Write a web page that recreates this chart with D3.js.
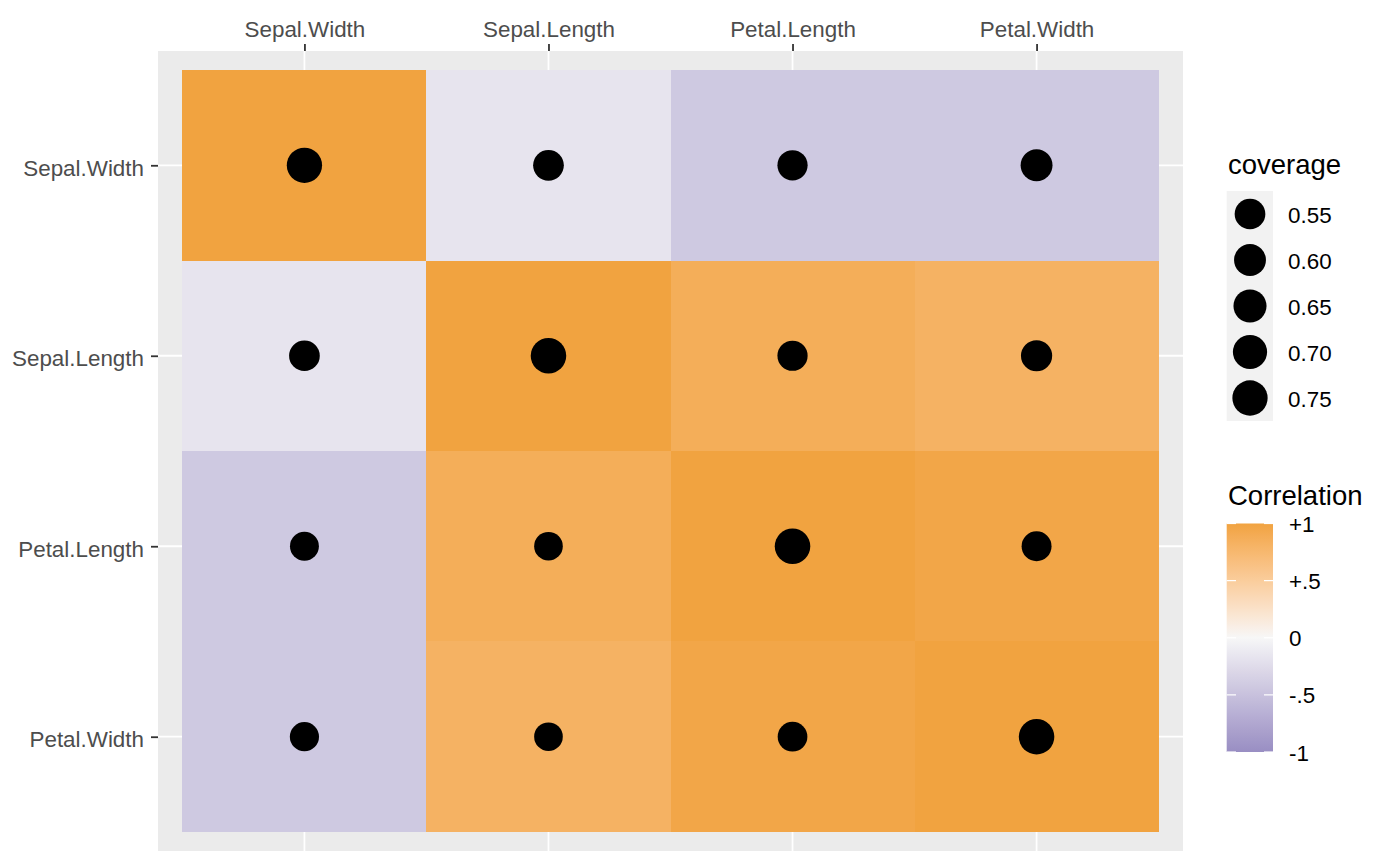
<!DOCTYPE html>
<html><head><meta charset="utf-8">
<script src="https://cdn.jsdelivr.net/npm/d3@7"></script>
<style>body{margin:0;background:#fff}svg{display:block;font-family:"Liberation Sans",Arial,sans-serif}</style>
</head><body><svg id="c" width="1400" height="866"></svg>
<script>
const variables = ["Sepal.Width","Sepal.Length","Petal.Length","Petal.Width"];
// correlation per row (y category) across columns (x category)
const corrSepalWidth  = [1.00, -0.17, -0.43, -0.43];
const corrSepalLength = [-0.17, 1.00, 0.87, 0.82];
const corrPetalLength = [-0.43, 0.87, 1.00, 0.96];
const corrPetalWidth  = [-0.43, 0.82, 0.96, 1.00];
// coverage per cell (dot size)
const covSepalWidth  = [0.75, 0.55, 0.53, 0.60];
const covSepalLength = [0.55, 0.76, 0.53, 0.57];
const covPetalLength = [0.48, 0.47, 0.76, 0.52];
const covPetalWidth  = [0.49, 0.47, 0.51, 0.76];
const coverageBreaks = [0.55, 0.60, 0.65, 0.70, 0.75];
const corrBreaks = [1, 0.5, 0, -0.5, -1];
const corrLabels = ["+1", "+.5", "0", "-.5", "-1"];

const corrRows = [corrSepalWidth, corrSepalLength, corrPetalLength, corrPetalWidth];
const covRows = [covSepalWidth, covSepalLength, covPetalLength, covPetalWidth];
const cells = [];
variables.forEach((rv, i) => variables.forEach((cv, j) => {
  cells.push({row: rv, col: cv, r: corrRows[i][j], cov: covRows[i][j]});
}));

const svg = d3.select("#c");
const P = {l: 158, r: 1183, t: 51, b: 851};
const x = d3.scalePoint().domain(variables).range([P.l, P.r]).padding(0.6);
const y = d3.scalePoint().domain(variables).range([P.t, P.b]).padding(0.6);
const color = d3.scaleLinear().domain([-1, 0, 1]).range(["#998EC3", "#F7F7F7", "#F1A340"]).interpolate(d3.interpolateLab);
const size = d3.scaleRadial().domain([0.55, 0.75]).range([15.35, 17.65]);

// panel
svg.append("rect").attr("x", P.l).attr("y", P.t).attr("width", P.r - P.l).attr("height", P.b - P.t).attr("fill", "#EBEBEB");
const grid = svg.append("g").attr("stroke", "#fff").attr("stroke-width", 1.8);
variables.forEach(v => {
  grid.append("line").attr("x1", x(v)).attr("x2", x(v)).attr("y1", P.t).attr("y2", P.b);
  grid.append("line").attr("y1", y(v)).attr("y2", y(v)).attr("x1", P.l).attr("x2", P.r);
});

// tiles
const sx = x.step(), sy = y.step();
svg.append("g").selectAll("rect").data(cells).join("rect")
  .attr("x", d => x(d.col) - sx / 2).attr("y", d => y(d.row) - sy / 2)
  .attr("width", sx).attr("height", sy)
  .attr("fill", d => color(d.r)).attr("shape-rendering", "crispEdges");

// points
svg.append("g").selectAll("circle").data(cells).join("circle")
  .attr("cx", d => x(d.col)).attr("cy", d => y(d.row))
  .attr("r", d => size(d.cov)).attr("fill", "#000");

// axes
const topAxis = d3.axisTop(x).tickSize(7).tickPadding(6);
const gTop = svg.append("g").attr("transform", `translate(0,${P.t})`).call(topAxis);
const leftAxis = d3.axisLeft(y).tickSize(7).tickPadding(7);
const gLeft = svg.append("g").attr("transform", `translate(${P.l},0)`).call(leftAxis);
[gTop, gLeft].forEach(g => {
  g.select(".domain").remove();
  g.selectAll(".tick line").attr("stroke", "#333333").attr("stroke-width", 1.8);
  g.selectAll(".tick text").attr("fill", "#4D4D4D").attr("font-size", 22.4).attr("font-family", '"Liberation Sans",Arial,sans-serif');
});
gTop.selectAll(".tick text").attr("dy", null).attr("y", -13.7);
gLeft.selectAll(".tick text").attr("dy", null).attr("y", 10).attr("x", -14);

// coverage legend
const L1 = svg.append("g");
L1.append("text").attr("x", 1228).attr("y", 174).attr("font-size", 27.5).attr("fill", "#000").text("coverage");
L1.append("rect").attr("x", 1226.7).attr("y", 191).attr("width", 46.3).attr("height", 230).attr("fill", "#F2F2F2");
coverageBreaks.forEach((v, i) => {
  const cy = 214 + i * 46;
  L1.append("circle").attr("cx", 1250).attr("cy", cy).attr("r", size(v)).attr("fill", "#000");
  L1.append("text").attr("x", 1288).attr("y", cy + 8.5).attr("font-size", 22.4).attr("fill", "#000").text(v.toFixed(2));
});

// correlation legend
const L2 = svg.append("g");
L2.append("text").attr("x", 1228).attr("y", 505).attr("font-size", 27.5).attr("fill", "#000").text("Correlation");
const cb = d3.scaleLinear().domain([1, -1]).range([523.5, 752]);
const defs = svg.append("defs");
const grad = defs.append("linearGradient").attr("id", "cg").attr("x1", 0).attr("x2", 0).attr("y1", 0).attr("y2", 1);
d3.range(0, 1.0001, 0.05).forEach(t => {
  grad.append("stop").attr("offset", t).attr("stop-color", color(1 - 2 * t));
});
L2.append("rect").attr("x", 1226.7).attr("y", cb(1)).attr("width", 46.3).attr("height", cb(-1) - cb(1)).attr("fill", "url(#cg)");
corrBreaks.forEach((v, i) => {
  const ty = cb(v);
  L2.append("line").attr("x1", 1226.7).attr("x2", 1236).attr("y1", ty).attr("y2", ty).attr("stroke", "#fff").attr("stroke-width", 1.2);
  L2.append("line").attr("x1", 1264).attr("x2", 1273).attr("y1", ty).attr("y2", ty).attr("stroke", "#fff").attr("stroke-width", 1.2);
  L2.append("text").attr("x", 1289).attr("y", ty + 8.5).attr("font-size", 22.4).attr("fill", "#000").text(corrLabels[i]);
});
</script></body></html>
